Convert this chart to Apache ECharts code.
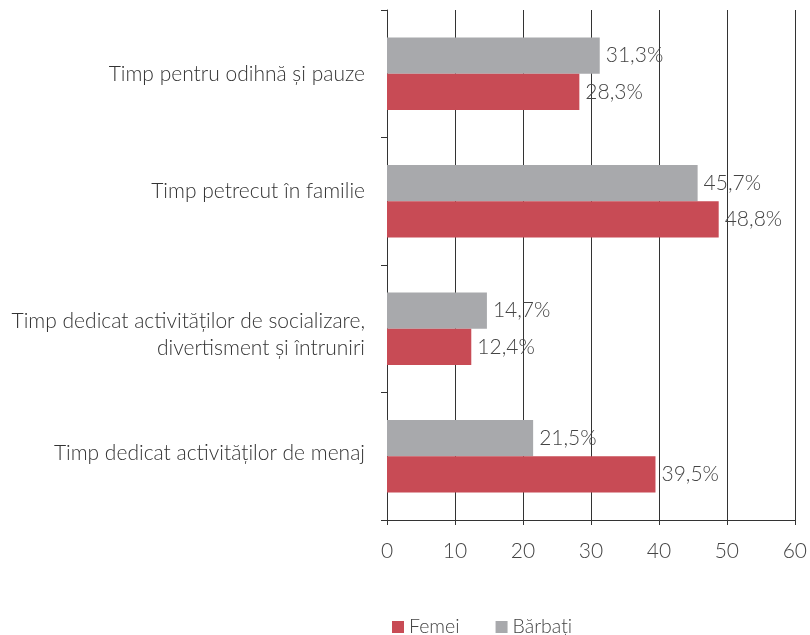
<!DOCTYPE html>
<html><head><meta charset="utf-8">
<script src="https://cdn.jsdelivr.net/npm/echarts@6/dist/echarts.min.js"></script>
<style>html,body{margin:0;padding:0;background:#fff}#c{width:810px;height:635px}</style>
</head><body><div id="c"></div>
<script>
// categories listed bottom to top
const categories = [
  "Timp dedicat activităților de menaj",
  "Timp dedicat activităților de socializare,\ndivertisment și întruniri",
  "Timp petrecut în familie",
  "Timp pentru odihnă și pauze"
];
const femei = [39.5, 12.4, 48.8, 28.3];
const barbati = [21.5, 14.7, 45.7, 31.3];
const xTicks = [0, 10, 20, 30, 40, 50, 60];

// vertical nudges of the category labels (style only), px: negative = up
const labelShift = [-3, 6, -10, 0];

const FONT = 'Lato';
const lbl = {
  show: true, position: 'right', distance: 6,
  color: '#444', fontFamily: FONT, fontWeight: 300, fontSize: 21,
  formatter: p => p.value.toFixed(1).replace('.', ',') + '%'
};
const rich = {};
labelShift.forEach((s, i) => {
  const h = Math.abs(s) * 2;
  if (h) rich['s' + i] = { height: h, lineHeight: h, fontSize: 1 };
});
const chart = echarts.init(document.getElementById('c'));
chart.setOption({
  animation: false,
  grid: { left: 387, right: 15, top: 10, bottom: 115, containLabel: false },
  legend: {
    top: 612, left: 387, itemWidth: 12, itemHeight: 12, itemGap: 36,
    icon: 'rect',
    textStyle: { fontFamily: FONT, fontWeight: 300, fontSize: 19.5, color: '#444' },
    data: ['Femei', 'Bărbați']
  },
  xAxis: {
    type: 'value', min: 0, max: 60, interval: 10,
    axisLine: { show: true, lineStyle: { color: '#333' } },
    axisTick: { show: true, length: 5, lineStyle: { color: '#333' } },
    splitLine: { show: true, lineStyle: { color: '#333', width: 1 } },
    axisLabel: { margin: 21, fontFamily: FONT, fontWeight: 300, fontSize: 21, color: '#444',
      formatter: v => xTicks.includes(v) ? String(v) : '' }
  },
  yAxis: {
    type: 'category', data: categories,
    axisLine: { show: true, lineStyle: { color: '#333' } },
    axisTick: { show: true, length: 6, lineStyle: { color: '#333' } },
    axisLabel: { margin: 22, fontFamily: FONT, fontWeight: 300, fontSize: 21, color: '#333', lineHeight: 27,
      rich: rich,
      formatter: (v, i) => {
        const s = labelShift[i];
        if (s < 0) return v + '\n{s' + i + '| }';
        if (s > 0) return '{s' + i + '| }\n' + v;
        return v;
      } }
  },
  series: [
    { name: 'Bărbați', type: 'bar', data: barbati, barGap: '0%', barCategoryGap: '43%',
      itemStyle: { color: '#A8A9AC' }, label: lbl },
    { name: 'Femei', type: 'bar', data: femei, barGap: '0%', barCategoryGap: '43%',
      itemStyle: { color: '#C84B55' }, label: lbl }
  ]
});
</script></body></html>
